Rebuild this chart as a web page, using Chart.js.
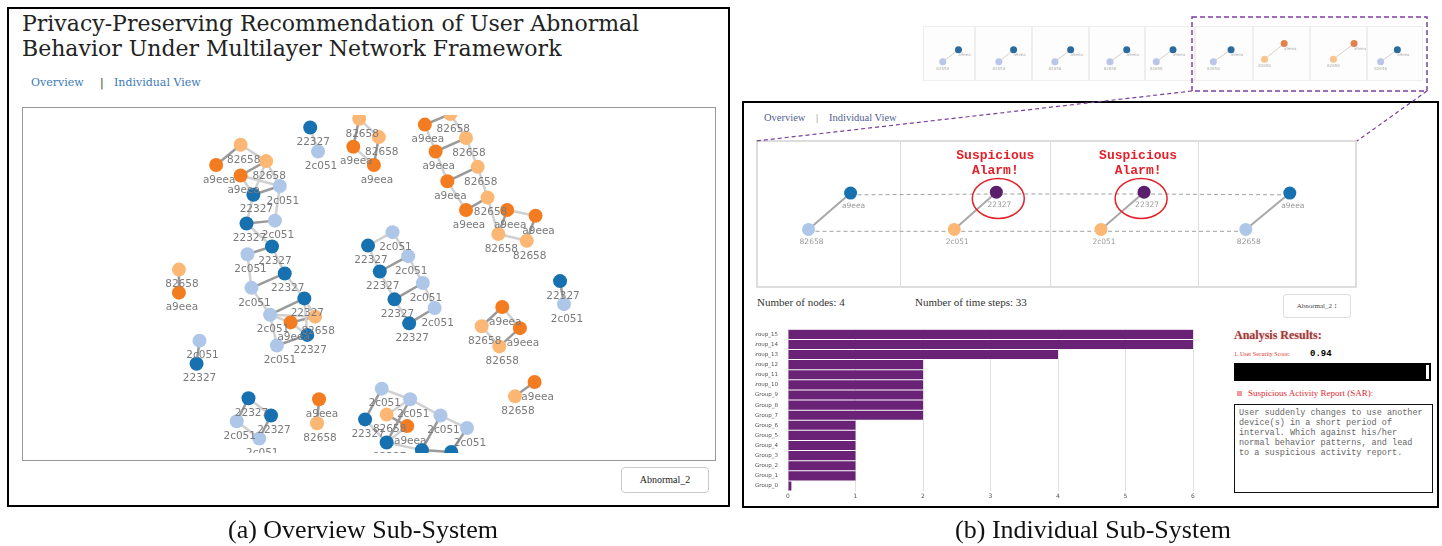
<!DOCTYPE html>
<html lang="en">
<head>
<meta charset="UTF-8">
<title>Privacy-Preserving Recommendation of User Abnormal Behavior</title>
<script src="https://cdn.jsdelivr.net/npm/chart.js"></script>
<style>
  body { margin: 0; width: 1442px; height: 546px; position: relative; background: #fff; overflow: hidden; font-family: "Liberation Serif", serif; }
  .abs { position: absolute; white-space: nowrap; }
  canvas { position: absolute; }
  .title { left: 22px; top: 11px; font: 22px/25px "DejaVu Serif", serif; color: #222; }
  .navL { top: 76px; font: 11px "DejaVu Serif", serif; color: #3b79b7; }
  .navR { top: 112px; font: 10.5px "Liberation Serif", serif; color: #4f6290; }
  .caption { top: 515px; font: 26px/30px "Liberation Serif", serif; color: #111; text-align: center; }
  .info { top: 296px; font: 11px "Liberation Serif", serif; color: #333; }
  .sar { left: 1234px; top: 404px; width: 199px; height: 89px; box-sizing: border-box; border: 1.5px solid #111;
         font: 8.5px/10px "Liberation Mono", monospace; color: #666; padding: 3px 4px; white-space: pre; }
</style>
</head>
<body>
<!-- panel frames -->
<div class="abs" style="left:7px;top:7px;width:723px;height:500px;border:2px solid #000;box-sizing:border-box;"></div>
<div class="abs" style="left:742px;top:101px;width:697px;height:407px;border:2px solid #000;box-sizing:border-box;"></div>

<!-- (a) overview -->
<div class="abs title">Privacy-Preserving Recommendation of User Abnormal<br>Behavior Under Multilayer Network Framework</div>
<div class="abs navL" style="left:31px;">Overview</div>
<div class="abs navL" style="left:100px;color:#333;">|</div>
<div class="abs navL" style="left:114px;">Individual View</div>
<div class="abs" style="left:22px;top:107px;width:694px;height:354px;border:1px solid #999;box-sizing:border-box;"></div>
<canvas id="overviewChart" width="692" height="352" style="left:23px;top:108px;"></canvas>
<div class="abs" style="left:621px;top:467px;width:88px;height:26px;border:1px solid #ccc;border-radius:4px;box-sizing:border-box;font:10px/24px 'Liberation Serif',serif;text-align:center;color:#222;">Abnormal_2</div>

<!-- (b) individual -->
<div id="thumbTiles"></div>
<canvas id="thumbChart" width="502" height="60" style="left:922px;top:24px;"></canvas>
<div class="abs navR" style="left:764px;">Overview</div>
<div class="abs navR" style="left:816px;color:#777;">|</div>
<div class="abs navR" style="left:829px;">Individual View</div>
<div class="abs" style="left:756px;top:140px;width:601px;height:148px;border:2px solid #ddd;box-sizing:border-box;"></div>
<div class="abs" style="left:900px;top:142px;width:1px;height:144px;background:#ddd;"></div>
<div class="abs" style="left:1050px;top:142px;width:1px;height:144px;background:#ddd;"></div>
<div class="abs" style="left:1198px;top:142px;width:1px;height:144px;background:#ddd;"></div>
<canvas id="individualChart" width="597" height="144" style="left:758px;top:142px;"></canvas>

<div class="abs info" style="left:757px;">Number of nodes: 4</div>
<div class="abs info" style="left:915px;">Number of time steps: 33</div>
<div class="abs" style="left:1283px;top:294px;width:68px;height:24px;border:1px solid #ddd;border-radius:3px;box-sizing:border-box;font:7px/22px 'Liberation Serif',serif;text-align:center;color:#444;">Abnormal_2 &#8597;</div>

<canvas id="groupChart" width="445" height="178" style="left:755px;top:324px;"></canvas>

<div class="abs" style="left:1234px;top:328px;font:bold 12px 'Liberation Serif',serif;color:#9a3c3c;text-shadow:0 0 2px #f4b4b4;">Analysis Results:</div>
<div class="abs" style="left:1234px;top:351px;font:6px 'Liberation Serif',serif;color:#d33;">1. User Security Score:</div>
<div class="abs" style="left:1310px;top:349px;font:bold 9px 'Liberation Mono',monospace;color:#000;">0.94</div>
<div class="abs" style="left:1234px;top:363px;width:197px;height:18px;background:#000;"></div>
<div class="abs" style="left:1426px;top:365px;width:3px;height:14px;background:#fff;"></div>
<div class="abs" style="left:1237px;top:391px;width:5px;height:5px;background:#f29a9a;"></div>
<div class="abs" style="left:1248px;top:388px;font:9px 'Liberation Serif',serif;color:#e0282e;">Suspicious Activity Report (SAR):</div>
<div class="abs sar">User suddenly changes to use another
device(s) in a short period of
interval. Which against his/her
normal behavior patterns, and lead
to a suspicious activity report.</div>

<!-- zoom box -->
<svg class="abs" style="left:0;top:0;" width="1442" height="546">
  <rect x="1192" y="17" width="235" height="74" fill="none" stroke="#7b3fa0" stroke-width="1.5" stroke-dasharray="5,3"/>
  <line x1="1192" y1="91" x2="756" y2="141" stroke="#7b3fa0" stroke-width="1.2" stroke-dasharray="4,3"/>
  <line x1="1427" y1="91" x2="1357" y2="141" stroke="#7b3fa0" stroke-width="1.2" stroke-dasharray="4,3"/>
</svg>

<div class="abs caption" style="left:0;width:726px;">(a) Overview Sub-System</div>
<div class="abs caption" style="left:743px;width:700px;">(b) Individual Sub-System</div>

<script>
// ---------- overview network ----------
const nodeId = ['82658','a9eea','82658','a9eea','2c051','22327','22327','2c051','2c051','22327',
                '22327','2c051','22327','2c051','82658','a9eea','22327','2c051',
                '22327','2c051',
                '82658','a9eea','82658','a9eea',
                'a9eea','82658','82658','a9eea','82658','a9eea','82658','a9eea','a9eea','a9eea','82658','82658',
                '2c051','22327','2c051','22327','2c051','22327','2c051','22327',
                '22327','2c051',
                'a9eea','82658','a9eea','82658',
                'a9eea','82658',
                '82658','a9eea',
                '2c051','22327',
                '22327','22327','2c051','2c051',
                'a9eea','82658',
                '2c051','2c051','2c051','2c051','22327','82658','a9eea','22327','22327','22327'];
const nodeX = [238,213,264,238,278,251,244,273,245,270,283,249,303,268,314,289,306,275,
               309,317,
               359,353,379,374,
               426,452,468,437,480,449,490,468,510,539,501,530,
               393,368,409,380,424,395,436,410,
               564,568,
               505,484,523,502,
               538,518,
               175,175,
               196,193,
               246,269,234,257,
               318,316,
               382,411,442,469,365,387,408,387,423,453];
const nodeY = [139,160,156,171,182,191,221,218,253,245,273,288,299,316,318,324,337,348,
               121,146,
               112,141,131,160,
               118,107,132,146,162,177,194,207,207,213,232,239,
               230,244,255,271,283,300,309,325,
               281,305,
               308,328,330,349,
               386,401,
               269,293,
               343,367,
               403,421,427,445,
               404,429,
               393,404,421,434,425,420,432,449,457,459];
// [from, to, strong]
const edges = [[0,1,1],[0,2,0],[3,2,1],[3,4,0],[2,5,0],[2,4,0],[5,4,1],[3,5,0],[4,7,0],[6,7,1],[6,5,0],[6,9,0],
               [8,9,1],[9,10,0],[11,10,1],[8,11,0],[10,12,0],[11,13,0],[13,12,1],[13,14,0],[12,16,0],[12,14,0],
               [15,14,1],[13,15,0],[17,16,1],[13,17,0],[15,16,0],
               [18,19,0],
               [20,21,1],[20,22,0],[21,23,0],[22,23,1],
               [24,25,1],[24,27,0],[25,26,0],[27,26,1],[27,29,0],[26,28,0],[29,28,1],[29,31,0],[28,30,0],[31,30,1],
               [30,34,0],[32,33,0],[32,34,1],[33,35,1],[34,35,0],
               [36,37,0],[36,38,0],[37,39,0],[38,39,1],[38,40,0],[39,41,0],[40,41,1],[40,42,0],[41,43,0],[42,43,1],
               [44,45,1],
               [46,47,1],[46,48,0],[47,49,0],[48,49,1],
               [50,51,1],[52,53,1],[54,55,1],
               [56,57,0],[56,58,1],[58,59,0],[57,59,1],
               [60,61,1],
               [62,63,0],[62,66,1],[63,64,0],[64,65,0],[63,69,1],[67,68,1],[63,67,0],[66,69,0],[69,70,0],[70,71,1],
               [64,70,1],[65,71,1],[69,68,0]];

// ---------- individual view ----------
const indId = ['a9eea','82658','22327','2c051','22327','2c051','a9eea','82658'];
const indX = [846,803,995,952,1146,1102,1295,1250];
const indY = [191,231,190,231,190,231,191,231];
const indColor = ['#1771b0','#aec7e8','#5b1f6e','#fdb774','#5b1f6e','#fdb774','#1771b0','#aec7e8'];
const indLinks = [[0,1],[2,3],[4,5],[6,7]];
const indTrack = [[0,2],[2,4],[4,6],[1,3],[3,5],[5,7]];
const alarmX = [997,1143];
const alarmY = [197,197];

// ---------- time-step thumbnails ----------
const thumbEdges = [923,975,1032,1089,1145,1195,1253,1310,1367,1423];
const thumbTopX = [955,1011,1069,1126,1173,1232,1286,1357,1401];
const thumbTopY = [49,49,49,49,49,49,42,42,49];
const thumbBotX = [939,996,1053,1109,1156,1214,1266,1336,1384];
const thumbBotY = [63,63,63,63,63,63,60,60,63];
const thumbTopColor = ['#2a6a9c','#2a6a9c','#2a6a9c','#2a6a9c','#2a6a9c','#2a6a9c','#e2824a','#e2824a','#2a6a9c'];
const thumbBotColor = ['#b9c6ea','#b9c6ea','#b9c6ea','#b9c6ea','#b9c6ea','#b9c6ea','#f9c48e','#f9c48e','#b9c6ea'];

// ---------- group counts ----------
const groups = ['Group_15','Group_14','Group_13','Group_12','Group_11','Group_10','Group_9','Group_8',
                'Group_7','Group_6','Group_5','Group_4','Group_3','Group_2','Group_1','Group_0'];
const groupCounts = [6,6,4,2,2,2,2,2,2,1,1,1,1,1,1,0.05];

const colorOf = { '22327': '#1771b0', '2c051': '#aec7e8', 'a9eea': '#f47c20', '82658': '#fdb774' };

function labelPlugin(id, texts, font, color, dx, dy) {
  return {
    id: id,
    afterDatasetsDraw(chart) {
      const ctx = chart.ctx, area = chart.chartArea;
      const meta = chart.getDatasetMeta(0);
      ctx.save();
      ctx.beginPath();
      ctx.rect(area.left, area.top, area.right - area.left, area.bottom - area.top);
      ctx.clip();
      ctx.font = font;
      ctx.fillStyle = color;
      ctx.textAlign = 'center';
      ctx.textBaseline = 'middle';
      meta.data.forEach((p, i) => ctx.fillText(texts[i], p.x + dx, p.y + dy));
      ctx.restore();
    }
  };
}

// overview chart
const ovSets = [{
  data: nodeX.map((x, i) => ({ x: x, y: nodeY[i] })),
  pointRadius: 7, pointHoverRadius: 7, pointBorderWidth: 0,
  pointBackgroundColor: nodeId.map(d => colorOf[d]),
  clip: 0, order: 0
}];
edges.forEach(e => {
  ovSets.push({
    data: [{ x: nodeX[e[0]], y: nodeY[e[0]] }, { x: nodeX[e[1]], y: nodeY[e[1]] }],
    showLine: true, pointRadius: 0, borderWidth: 2.5,
    borderColor: e[2] ? '#9a9a9a' : '#d0d0d0', clip: 0, order: 1
  });
});
new Chart(document.getElementById('overviewChart'), {
  type: 'scatter',
  data: { datasets: ovSets },
  options: {
    responsive: false, animation: false,
    layout: { padding: 0 },
    plugins: { legend: { display: false }, tooltip: { enabled: false } },
    scales: {
      x: { display: false, min: 23, max: 715 },
      y: { display: false, min: 108, max: 460, reverse: true }
    }
  },
  plugins: [labelPlugin('ovLabels', nodeId, '10.5px "DejaVu Sans"', '#7a7a7a', 3, 15)]
});

// individual chart
const inSets = [{
  data: indX.map((x, i) => ({ x: x, y: indY[i] })),
  pointRadius: 6.5, pointBorderWidth: 0,
  pointBackgroundColor: indColor, order: 0
}, {
  data: alarmX.map((x, i) => ({ x: x, y: alarmY[i] })),
  pointRadius: 0, order: 0
}];
indLinks.forEach(l => inSets.push({
  data: [{ x: indX[l[0]], y: indY[l[0]] }, { x: indX[l[1]], y: indY[l[1]] }],
  showLine: true, pointRadius: 0, borderWidth: 2, borderColor: '#a8a8a8', order: 1
}));
indTrack.forEach(l => inSets.push({
  data: [{ x: indX[l[0]], y: indY[l[0]] + 2 }, { x: indX[l[1]], y: indY[l[1]] + 2 }],
  showLine: true, pointRadius: 0, borderWidth: 1, borderColor: '#a0a0a0', borderDash: [4, 3], order: 2
}));
const alarmPlugin = {
  id: 'alarm',
  afterDatasetsDraw(chart) {
    const ctx = chart.ctx;
    chart.getDatasetMeta(1).data.forEach(p => {
      ctx.save();
      ctx.strokeStyle = '#e3212b';
      ctx.lineWidth = 1.5;
      ctx.beginPath();
      ctx.ellipse(p.x, p.y, 26, 20, 0, 0, Math.PI * 2);
      ctx.stroke();
      ctx.fillStyle = '#e3212b';
      ctx.font = 'bold 13px "Liberation Mono"';
      ctx.textAlign = 'center';
      ctx.textBaseline = 'middle';
      ctx.fillText('Suspicious', p.x - 3, p.y - 43);
      ctx.fillText('Alarm!', p.x - 3, p.y - 28);
      ctx.restore();
    });
  }
};
new Chart(document.getElementById('individualChart'), {
  type: 'scatter',
  data: { datasets: inSets },
  options: {
    responsive: false, animation: false,
    layout: { padding: 0 },
    plugins: { legend: { display: false }, tooltip: { enabled: false } },
    scales: {
      x: { display: false, min: 758, max: 1355 },
      y: { display: false, min: 142, max: 286, reverse: true }
    }
  },
  plugins: [labelPlugin('inLabels', indId, '7.5px "DejaVu Sans"', '#9a9a9a', 3, 13), alarmPlugin]
});

// thumbnails: tile frames
const tiles = document.getElementById('thumbTiles');
for (let i = 0; i < thumbEdges.length - 1; i++) {
  const d = document.createElement('div');
  d.className = 'abs';
  d.style.cssText = 'left:' + thumbEdges[i] + 'px;top:26px;width:' + (thumbEdges[i + 1] - thumbEdges[i]) +
    'px;height:55px;border:1px solid #eee;box-sizing:border-box;background:#fdfdfd;';
  tiles.appendChild(d);
}
const thSets = [{
  data: thumbTopX.map((x, i) => ({ x: x, y: thumbTopY[i] })),
  pointRadius: 3.5, pointBorderWidth: 0, pointBackgroundColor: thumbTopColor, order: 0
}, {
  data: thumbBotX.map((x, i) => ({ x: x, y: thumbBotY[i] })),
  pointRadius: 3.5, pointBorderWidth: 0, pointBackgroundColor: thumbBotColor, order: 0
}];
thumbTopX.forEach((x, i) => thSets.push({
  data: [{ x: x, y: thumbTopY[i] }, { x: thumbBotX[i], y: thumbBotY[i] }],
  showLine: true, pointRadius: 0, borderWidth: 1, borderColor: '#d9cfc4', order: 1
}));
const thumbText = {
  id: 'thumbText',
  afterDatasetsDraw(chart) {
    const ctx = chart.ctx;
    ctx.save();
    ctx.font = '4px "DejaVu Sans"';
    ctx.fillStyle = '#b0b0b0';
    ctx.textAlign = 'center';
    chart.getDatasetMeta(0).data.forEach(p => ctx.fillText('a9eea', p.x + 6, p.y + 6));
    chart.getDatasetMeta(1).data.forEach(p => ctx.fillText('82658', p.x, p.y + 8));
    ctx.restore();
  }
};
new Chart(document.getElementById('thumbChart'), {
  type: 'scatter',
  data: { datasets: thSets },
  options: {
    responsive: false, animation: false,
    layout: { padding: 0 },
    plugins: { legend: { display: false }, tooltip: { enabled: false } },
    scales: {
      x: { display: false, min: 922, max: 1424 },
      y: { display: false, min: 24, max: 84, reverse: true }
    }
  },
  plugins: [thumbText]
});

// group bar chart
new Chart(document.getElementById('groupChart'), {
  type: 'bar',
  data: {
    labels: groups,
    datasets: [{
      data: groupCounts,
      backgroundColor: '#6a2277',
      barPercentage: 0.9,
      categoryPercentage: 1
    }]
  },
  options: {
    indexAxis: 'y',
    responsive: false, animation: false,
    layout: { padding: { top: 4, right: 7, left: 0, bottom: 0 } },
    plugins: { legend: { display: false }, tooltip: { enabled: false } },
    scales: {
      x: {
        min: 0, max: 6,
        ticks: { stepSize: 1, font: { size: 6, family: 'DejaVu Sans' }, color: '#555', padding: 2 },
        grid: { color: '#e0e0e0', drawTicks: false },
        border: { display: false },
        afterFit(s) { s.height = 11; }
      },
      y: {
        ticks: { autoSkip: false, font: { size: 5.5, family: 'DejaVu Sans' }, color: '#555', padding: 2 },
        grid: { display: false },
        border: { display: false },
        afterFit(s) { s.width = 33; }
      }
    }
  }
});
</script>
</body>
</html>
